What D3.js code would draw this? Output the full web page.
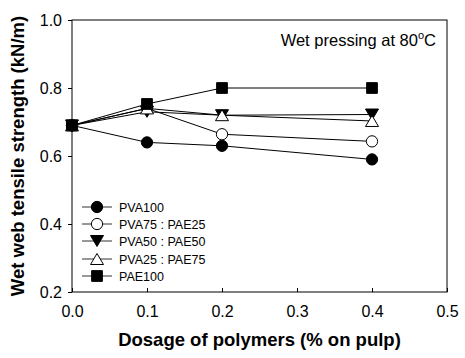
<!DOCTYPE html>
<html>
<head>
<meta charset="utf-8">
<script src="https://cdn.jsdelivr.net/npm/d3@7"></script>
<style>
  body { margin: 0; background: #fff; }
  svg { display: block; font-family: "Liberation Sans", Arial, sans-serif; }
</style>
</head>
<body>
<svg id="chart" width="465" height="358"></svg>
<script>
// dosage (% on pulp)
const dosage = [0.0, 0.1, 0.2, 0.4];
const seriesNames = ["PVA100", "PVA75 : PAE25", "PVA50 : PAE50", "PVA25 : PAE75", "PAE100"];
const pva100 = [0.69, 0.64, 0.63, 0.59];
const pva75pae25 = [0.69, 0.74, 0.664, 0.643];
const pva50pae50 = [0.69, 0.73, 0.72, 0.722];
const pva25pae75 = [0.69, 0.74, 0.72, 0.703];
const pae100 = [0.69, 0.753, 0.80, 0.80];
const xTicks = [0.0, 0.1, 0.2, 0.3, 0.4, 0.5];
const yTicks = [0.2, 0.4, 0.6, 0.8, 1.0];

const seriesValues = [pva100, pva75pae25, pva50pae50, pva25pae75, pae100];
const markers = [
  { shape: d3.symbolCircle, fill: "#000", size: 100 },
  { shape: d3.symbolCircle, fill: "#fff", size: 100 },
  { shape: "down", fill: "#000" },
  { shape: "up", fill: "#fff" },
  { shape: d3.symbolSquare, fill: "#000", size: 115 }
];

const svg = d3.select("#chart");
const plotLeft = 72, plotRight = 447, plotTop = 20, plotBottom = 292;

const x = d3.scaleLinear().domain([0, 0.5]).range([plotLeft, plotRight]);
const y = d3.scaleLinear().domain([0.2, 1.0]).range([plotBottom, plotTop]);

// frame
svg.append("rect")
  .attr("x", plotLeft).attr("y", plotTop)
  .attr("width", plotRight - plotLeft).attr("height", plotBottom - plotTop)
  .attr("fill", "none").attr("stroke", "#000").attr("stroke-width", 1);

// x axis, ticks pointing inward
const xAxis = svg.append("g")
  .attr("transform", `translate(0,${plotBottom})`)
  .call(d3.axisBottom(x).tickValues(xTicks).tickFormat(d3.format(".1f")).tickSizeInner(-4).tickSizeOuter(0).tickPadding(14));
xAxis.select(".domain").remove();
xAxis.selectAll("text").attr("font-size", 16).attr("fill", "#000").attr("font-family", "Liberation Sans, Arial, sans-serif");

const yAxis = svg.append("g")
  .attr("transform", `translate(${plotLeft},0)`)
  .call(d3.axisLeft(y).tickValues(yTicks).tickFormat(d3.format(".1f")).tickSizeInner(4).tickSizeOuter(0).tickPadding(6));
yAxis.select(".domain").remove();
yAxis.selectAll("text").attr("font-size", 16).attr("fill", "#000").attr("font-family", "Liberation Sans, Arial, sans-serif");

function drawMarker(g, m, cx, cy) {
  if (m.shape === "down" || m.shape === "up") {
    const h = 11, w = 13;
    const pts = m.shape === "down"
      ? [[cx - w / 2, cy - h / 2], [cx + w / 2, cy - h / 2], [cx, cy + h / 2]]
      : [[cx - w / 2, cy + h / 2], [cx + w / 2, cy + h / 2], [cx, cy - h / 2]];
    g.append("polygon")
      .attr("points", pts.map(p => p.join(",")).join(" "))
      .attr("fill", m.fill).attr("stroke", "#000").attr("stroke-width", 1);
  } else {
    g.append("path")
      .attr("d", d3.symbol().type(m.shape).size(m.size)())
      .attr("transform", `translate(${cx},${cy})`)
      .attr("fill", m.fill).attr("stroke", "#000").attr("stroke-width", 1);
  }
}

const line = d3.line().x((d, i) => x(dosage[i])).y(d => y(d));

seriesValues.forEach((vals, si) => {
  const g = svg.append("g");
  g.append("path").datum(vals)
    .attr("d", line)
    .attr("fill", "none").attr("stroke", "#000").attr("stroke-width", 1);
  vals.forEach((v, i) => drawMarker(g, markers[si], x(dosage[i]), y(v)));
});

// legend
const legend = svg.append("g");
const legendY = [207, 224, 241, 259, 276];
seriesNames.forEach((name, i) => {
  const ly = legendY[i];
  legend.append("line")
    .attr("x1", 82).attr("x2", 112).attr("y1", ly).attr("y2", ly)
    .attr("stroke", "#333").attr("stroke-width", 1);
  drawMarker(legend, markers[i], 97, ly);
  legend.append("text")
    .attr("x", 119).attr("y", ly + 4.5)
    .attr("font-size", 12.5)
    .text(name);
});

// annotation
const note = svg.append("text")
  .attr("x", 436).attr("y", 46)
  .attr("text-anchor", "end")
  .attr("font-size", 16.5);
note.append("tspan").text("Wet pressing at 80");
note.append("tspan").attr("dy", -7).attr("font-size", 11).text("o");
note.append("tspan").attr("dy", 7).text("C");

// axis titles
svg.append("text")
  .attr("x", (plotLeft + plotRight) / 2).attr("y", 346)
  .attr("text-anchor", "middle")
  .attr("font-size", 18.5).attr("font-weight", "bold")
  .text("Dosage of polymers (% on pulp)");

svg.append("text")
  .attr("transform", `translate(24,${(plotTop + plotBottom) / 2}) rotate(-90)`)
  .attr("text-anchor", "middle")
  .attr("font-size", 18.5).attr("font-weight", "bold")
  .text("Wet web tensile strength (kN/m)");
</script>
</body>
</html>
